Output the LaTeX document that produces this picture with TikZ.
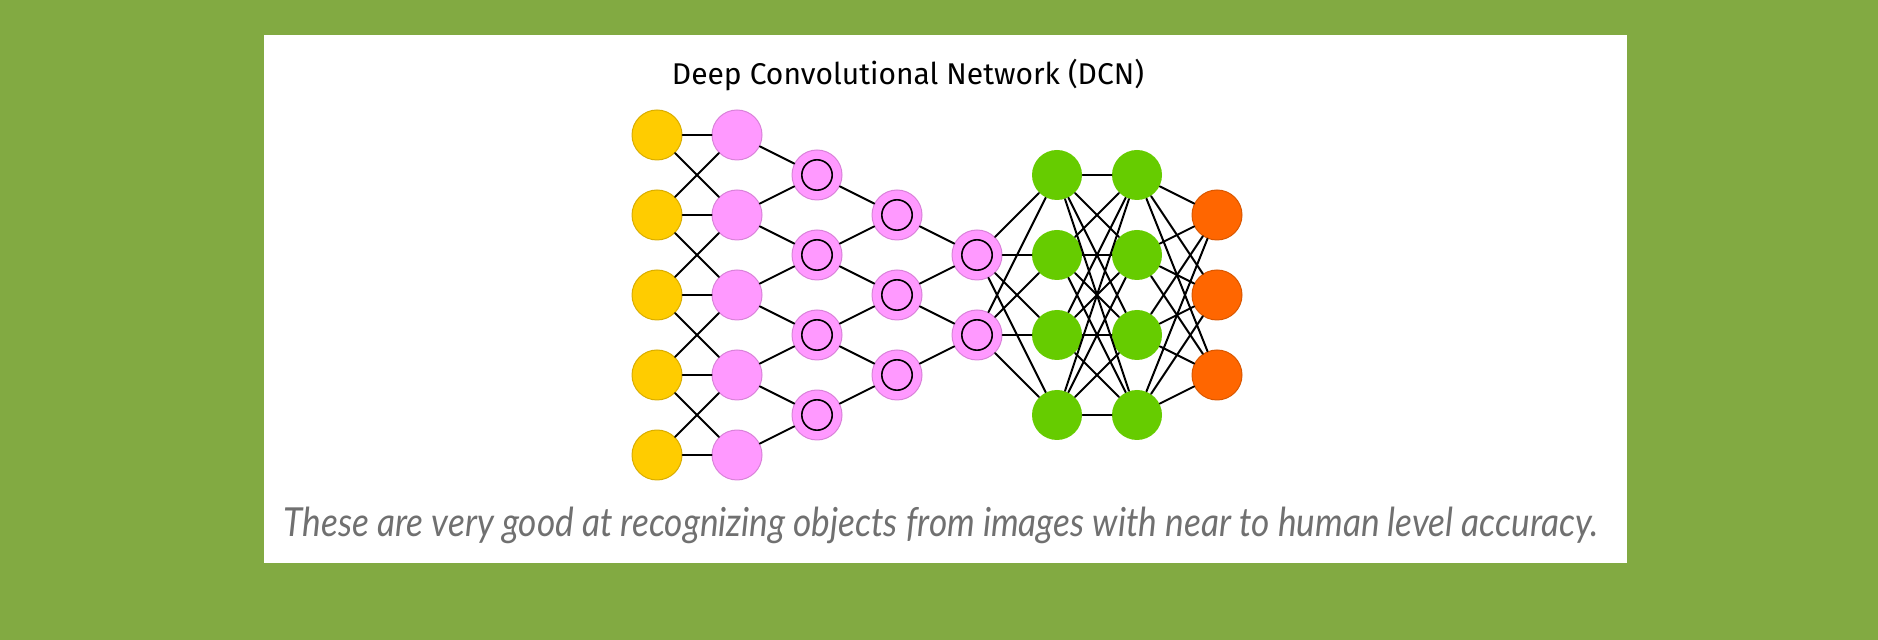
\documentclass[tikz,border=0pt]{standalone}
\usepackage{fontspec}
\setmainfont{Fira Sans}
\newfontfamily\capfont{Lato}
\definecolor{bggreen}{RGB}{130,170,66}
\definecolor{inyellow}{RGB}{255,204,0}
\definecolor{convpink}{RGB}{255,153,255}
\definecolor{hidgreen}{RGB}{102,204,0}
\definecolor{outorange}{RGB}{255,102,0}
\definecolor{capgray}{RGB}{112,112,112}
\begin{document}
\begin{tikzpicture}[x=0.5pt, y=-0.5pt, line join=round, line cap=round,
	cell/.style={circle, minimum size=25pt, inner sep=0pt, line width=0.5pt},
	inp/.style={cell, fill=inyellow, draw=inyellow!85!black},
	kern/.style={cell, fill=convpink, draw=convpink!85!black},
	conv/.style={kern, path picture={\draw[black, line width=0.8pt] (path picture bounding box.center) circle (7.6pt);}},
	hid/.style={cell, fill=hidgreen},
	outp/.style={cell, fill=outorange, draw=outorange!85!black},
	wire/.style={line width=1pt}]
	\def\xa{657} \def\dx{80} \def\ymid{295} \def\dy{80} % Lưới
	% nền
	\fill[bggreen] (0,0) rectangle (1878,640);
	\fill[white] (264,35) rectangle (1627,563);
	\node[anchor=base, font=\fontsize{15pt}{18pt}\selectfont] (title) at (908,85) {Deep Convolutional Network (DCN)};
	% các lớp
	\foreach \i in {1,...,5} \node[inp] (y\i) at (\xa,{\ymid+(\i-3)*\dy}) {};
	\foreach \i in {1,...,5} \node[kern] (p\i) at (\xa+\dx,{\ymid+(\i-3)*\dy}) {};
	\foreach \i in {1,...,4} \node[conv] (c\i) at (\xa+2*\dx,{\ymid+(\i-2.5)*\dy}) {};
	\foreach \i in {1,...,3} \node[conv] (d\i) at (\xa+3*\dx,{\ymid+(\i-2)*\dy}) {};
	\foreach \i in {1,...,2} \node[conv] (e\i) at (\xa+4*\dx,{\ymid+(\i-1.5)*\dy}) {};
	\foreach \i in {1,...,4} \node[hid] (g\i) at (\xa+5*\dx,{\ymid+(\i-2.5)*\dy}) {};
	\foreach \i in {1,...,4} \node[hid] (h\i) at (\xa+6*\dx,{\ymid+(\i-2.5)*\dy}) {};
	\foreach \i in {1,...,3} \node[outp] (o\i) at (\xa+7*\dx,{\ymid+(\i-2)*\dy}) {};
	% nối
	\foreach \i in {1,...,5} \draw[wire] (y\i) -- (p\i);
	\foreach \i/\j in {1/2,2/3,3/4,4/5} {\draw[wire] (y\i) -- (p\j); \draw[wire] (y\j) -- (p\i);}
	\foreach \i/\j in {1/1,2/1,2/2,3/2,3/3,4/3,4/4,5/4} \draw[wire] (p\i) -- (c\j);
	\foreach \i/\j in {1/1,2/1,2/2,3/2,3/3,4/3} \draw[wire] (c\i) -- (d\j);
	\foreach \i/\j in {1/1,2/1,2/2,3/2} \draw[wire] (d\i) -- (e\j);
	\foreach \i in {1,2} \foreach \j in {1,...,4} \draw[wire] (e\i) -- (g\j);
	\foreach \i in {1,...,4} \foreach \j in {1,...,4} \draw[wire] (g\i) -- (h\j);
	\foreach \i in {1,...,4} \foreach \j in {1,...,3} \draw[wire] (h\i) -- (o\j);
	\node[anchor=base, text=capgray, font=\capfont\itshape\fontsize{20pt}{24pt}\selectfont] (caption) at (941,537) {\scalebox{0.88}[1]{These are very good at recognizing objects from images with near to human level accuracy.}};
\end{tikzpicture}
\end{document}
